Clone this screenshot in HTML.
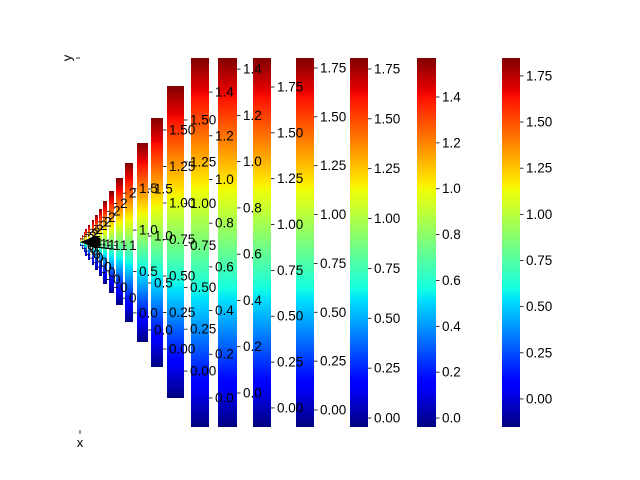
<!DOCTYPE html>
<html><head><meta charset="utf-8"><style>
html,body{margin:0;padding:0;background:#fff;}
svg{display:block;font-family:"Liberation Sans","DejaVu Sans",sans-serif;}
</style></head><body>
<svg id="chart" width="640" height="480" viewBox="0 0 640 480" xmlns="http://www.w3.org/2000/svg">
<defs>
<linearGradient id="jet" x1="0" y1="1" x2="0" y2="0">
<stop offset="0" stop-color="#000080"/><stop offset="0.11" stop-color="#0000ff"/><stop offset="0.125" stop-color="#0000ff"/>
<stop offset="0.34" stop-color="#00dbff"/><stop offset="0.35" stop-color="#00e5f8"/><stop offset="0.375" stop-color="#14ffe2"/>
<stop offset="0.64" stop-color="#eeff08"/><stop offset="0.65" stop-color="#f7f500"/><stop offset="0.66" stop-color="#ffec00"/>
<stop offset="0.89" stop-color="#ff1300"/><stop offset="0.91" stop-color="#e80000"/><stop offset="1" stop-color="#800000"/>
</linearGradient>
</defs>
<g>
<line x1="76" y1="58" x2="80" y2="58" stroke="#000" stroke-width="0.8"/>
<text x="67" y="58" font-size="13" text-anchor="middle" transform="rotate(-90 67 58)" dominant-baseline="central">y</text>
<line x1="80" y1="430" x2="80" y2="434" stroke="#000" stroke-width="0.8"/>
<text x="80" y="447" font-size="13" text-anchor="middle">x</text>
</g>
<g id="bars"></g>
<g id="ticks"></g>
<path d="M80,242 L96,236 L100,238 L100,246 L96,248 Z" fill="#000"/>
</svg>
<script>
// colorbar value ranges (data)
const vmins = [-0.13,-0.13,-0.13,-0.13,-0.13,-0.13,-0.13,-0.13,-0.13,-0.13,-0.13,-0.11,-0.128,-0.123,-0.161,-0.133,-0.147,-0.104,-0.087,-0.045,-0.039,-0.152];
const vmaxs = [2.3,2.3,2.3,2.3,2.3,2.3,2.3,2.3,2.3,2.3,2.29,1.81,1.99,1.582,1.703,1.556,1.448,1.908,1.801,1.805,1.570,1.847];
const steps = [1,1,1,1,1,1,1,1,1,1,1,0.5,0.5,0.25,0.25,0.2,0.2,0.25,0.25,0.25,0.2,0.25];
const decimals = [0,0,0,0,0,0,0,0,0,0,0,1,1,2,2,1,1,2,2,2,1,2];
// layout: [x0, x1, top, bottom]
const geom = [
[80,81,238,246],[82,83,235,249],[84,85,232,252],[85,87,229,256],[88,90,225,260],[92,94,220,265],
[95,98,215,270],[99,102,209,276],[103,107,201,284],[109,114,191,293],[116,123,178,305],
[125,133,163,322],[137,148,143,342],[151,163,118,367],[167,184,86,398],[191,209,58,427],
[218,237,58,427],[253,271,58,427],[296,314,58,427],[350,368,58,427],[417,436,58,427],[502,520,58,427]
];
const NS='http://www.w3.org/2000/svg';
const gb=document.getElementById('bars');
const gt=document.getElementById('ticks');
function mk(t,a){const e=document.createElementNS(NS,t);for(const k in a)e.setAttribute(k,a[k]);return e;}
for(let i=0;i<vmins.length;i++){
  const [x0,x1,top,bot]=geom[i];
  const r=mk('rect',{x:x0,y:top,width:x1-x0,height:bot-top,fill:'url(#jet)'});
  
  
  gb.appendChild(r);
}
for(let i=0;i<vmins.length;i++){
  const [x0,x1,top,bot]=geom[i];
  const vmin=vmins[i],vmax=vmaxs[i];
  const yScale=v=>bot-(v-vmin)/(vmax-vmin)*(bot-top);
  const grp=mk('g',{});
  
  
  const st=steps[i];
  for(let k=Math.ceil(vmin/st-1e-9);k*st<=vmax+1e-9;k++){
    const v=k*st,y=yScale(v);
    const tl=mk('line',{x1:x1,y1:y,x2:x1+3.5,y2:y,stroke:'#000','stroke-width':0.8});
    
    
    grp.appendChild(tl);
    const t=mk('text',{x:x1+6,y:y,'font-size':13.5,'dominant-baseline':'central',fill:'#000'});
    
    
    t.textContent=(Math.abs(v)<1e-9?0:v).toFixed(decimals[i]);
    grp.appendChild(t);
  }
  gt.appendChild(grp);
}
</script>
</body></html>
